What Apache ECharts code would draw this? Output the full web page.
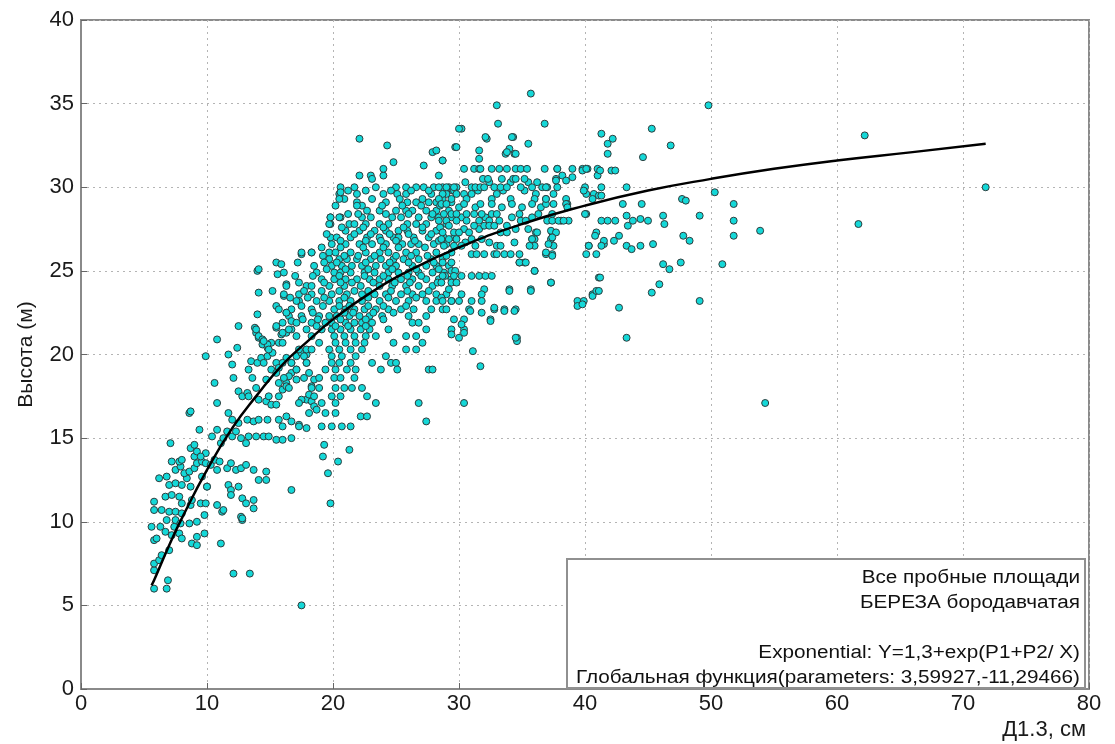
<!DOCTYPE html>
<html>
<head>
<meta charset="utf-8">
<script src="https://cdn.jsdelivr.net/npm/echarts@6/dist/echarts.min.js"></script>
<style>
  html, body { margin: 0; padding: 0; background: #fff; }
  #chart { width: 1115px; height: 744px; }
</style>
</head>
<body>
<div id="chart"></div>
<script>
// Д1.3 (cm) vs height (m)
const smallTrees = [
  [5.8,6.0],[6.8,6.0],[6.9,6.5],[12.1,6.9],[13.4,6.9],[5.8,7.1],[5.8,7.5],[6.2,7.7],[6.4,8.0],[7.0,8.3],[11.1,8.7],
  [5.8,8.9],[6.0,9.0],[7.2,9.2],[7.8,9.3],[8.0,9.0],[8.8,8.7],[9.2,8.6],[9.2,9.1],[9.8,9.3],
  [5.6,9.7],[6.3,9.7],[6.7,9.4],[7.4,9.7],[6.8,10.1],[7.5,10.1],[7.9,9.9],[8.6,9.9],[9.2,10.0],
  [9.8,10.4],[11.2,10.6],[12.7,10.3],[12.8,10.1],
  [5.8,10.7],[6.4,10.7],[7.0,10.6],[7.5,10.6],[8.0,10.5],[8.7,11.0],[9.5,11.1],[9.9,11.1],
  [5.8,11.2],[6.7,11.5],[7.2,11.6],[7.8,11.5],[8.0,11.1],[8.8,11.3],[10.0,12.1],[10.8,11.0],[11.3,10.7],
  [11.7,12.2],[11.9,11.9],[11.9,11.6],[12.5,12.1],[12.8,11.4],[13.1,11.1],[13.7,11.3],[13.7,10.8],[12.8,10.2],[16.7,11.9],
  [6.2,12.6],[6.8,12.7],[7.0,12.2],[7.5,12.3],[8.0,12.2],[8.4,12.6],[8.7,12.1],[9.6,12.7],[10.0,12.1],
  [7.5,13.1],[7.9,13.3],[8.2,12.9],[8.6,13.0],[9.0,13.2],[9.2,13.5],[9.6,13.6],[9.9,13.5],[10.3,13.4],[10.8,13.1],
  [7.2,13.6],[7.8,13.6],[8.0,13.7],[9.0,13.9],[9.2,14.2],[9.9,14.1],
  [10.6,13.7],[11.0,13.6],[11.6,13.2],[11.9,13.5],[12.3,13.1],[12.7,13.2],[13.1,13.4],[13.7,13.1],[14.7,13.0],[14.1,12.5],[14.7,12.5],
  [8.7,14.4],[9.0,14.6],[9.4,15.5],[9.5,13.9],[7.1,14.7],[8.6,16.5],[8.7,16.6],
  [10.4,15.1],[10.8,15.5],[11.1,14.7],[11.3,15.0],[11.6,15.4],[12.0,15.1],[12.3,15.4],[12.7,15.0],[13.1,14.7],[13.3,15.1],
  [13.9,15.1],[14.5,15.1],[14.9,15.1],[15.5,14.9],[16.0,14.9],[16.7,15.0],
  [10.8,17.1],[11.7,16.5],[12.0,16.1],[12.5,15.9],[13.2,16.1],[13.7,16.0],[14.1,16.1],[14.8,16.1],[15.7,16.1],[16.3,16.3],
  [16.7,16.0],[17.3,15.8],[17.9,15.6],
  [10.6,18.3],[9.9,19.9],[10.8,20.9],
  [11.7,20.0],[12.0,19.4],[12.1,18.6],[12.5,17.8],[12.8,17.5],[13.2,17.7],[13.9,18.0],[13.6,18.6],
  [13.3,19.1],[13.5,19.6],[14.0,19.5],[14.3,19.8],[14.5,19.5],[14.8,19.9],[15.2,20.1],[15.5,19.5],[15.7,19.2],
  [14.1,21.0],[13.9,21.3],[14.4,20.6],[14.8,20.4],[15.1,20.7],[15.7,20.7],
  [16.3,19.8],[16.7,19.5],[17.1,19.9],[17.5,20.1],[17.9,19.5],[17.9,20.0],
  [13.3,17.5],[14.1,17.3],[14.7,17.2],[14.9,17.5],[15.1,17.0],[15.5,17.0],[16.0,17.9],[16.3,18.3],[16.7,18.9],[17.1,18.5],
  [17.9,17.3],[18.1,17.6],[18.3,17.2],[18.5,16.9],
  [14.7,18.5],[15.7,18.3],[16.3,18.1],[15.1,19.1],[15.5,18.9],[16.5,18.7],[17.5,17.3],[17.1,19.1],
  [17.9,20.3],[18.1,18.9],[18.3,18.1],[18.5,18.5],[18.7,16.7]
];

const middleTrees = [
  [12.4,20.4],[14.0,25.0],[14.1,23.7],[14.0,22.4],[15.5,25.5],[15.6,24.8],[15.2,23.8],[16.3,24.2],[16.1,23.5],[15.5,22.9],
  [15.5,21.6],[16.3,22.5],[16.5,22.3],[16.7,22.0],[16.7,21.5],[16.3,21.3],[15.9,21.2],[12.5,21.7],[13.8,21.6],[14.1,21.1],
  [14.4,20.9],[14.8,20.6],[14.9,20.3],[17.5,26.0],[18.3,26.1],[14.1,25.1],[15.9,25.4],[17.3,23.2],[13.9,21.5],[14.5,20.8],
  [15.5,21.7],[16.0,21.3],
  [17.5,5.0],[19.6,12.9],[19.8,11.1],[19.2,13.9],[20.4,13.6],[21.3,14.3],[19.3,14.6]
];

// [height, diameters in that row]
const coreRows = [
  [30.7,[22.1,23.0,24.0,28.4]],
  [30.0,[20.6,21.7,23.4,25.0,25.8,26.6,27.2,28.0,28.7,29.2,29.8]],
  [29.6,[20.5,21.9,24.0,25.1,25.8,27.8,29.0]],
  [29.1,[21.9,24.2,25.9,26.6,27.6,28.2,29.4]],
  [28.6,[22.7,23.7,25.0,25.8,26.3,27.4,28.2,29.2]],
  [28.2,[19.8,20.6,22.3,23.0,24.7,25.4,26.8,27.8,28.4,29.4]],
  [27.8,[19.8,21.3,21.7,22.6,23.7,24.4,25.9,26.6,27.4,29.0]],
  [27.4,[21.0,22.1,23.3,24.2,25.2,25.9,27.1,28.2]],
  [27.0,[19.8,20.3,21.4,22.7,23.7,24.8,25.2,26.4,27.6,28.8,29.6]],
  [26.6,[19.9,21.0,22.1,23.1,24.2,25.5,26.2,26.8,28.0,29.0]],
  [26.1,[17.5,18.3,19.7,20.2,21.4,22.6,23.7,24.4,25.8,26.6,28.2,29.4]],
  [25.7,[19.7,20.5,21.1,21.9,23.0,23.8,24.8,25.6,26.8,27.8,28.7]],
  [25.3,[18.5,19.9,20.7,21.5,22.3,23.4,24.2,25.0,26.3,27.4,28.2,29.2]],
  [24.9,[16.1,18.7,20.1,20.6,21.4,22.5,23.3,24.4,25.2,26.0,26.8,27.9,28.8]],
  [24.5,[19.1,20.1,21.0,21.9,22.9,23.7,24.4,25.4,26.3,27.4,28.4,29.4]],
  [24.1,[16.3,17.9,18.3,19.7,20.9,22.2,23.7,24.7,25.8,26.8,27.9]],
  [23.6,[16.1,17.3,18.3,19.9,21.1,22.3,23.3,24.2,25.4,26.3,27.1,28.2,29.0]],
  [23.2,[17.1,18.7,19.7,20.5,21.4,22.3,23.7,25.0,26.0,27.4,28.2,29.4]],
  [22.7,[15.7,16.7,18.3,20.1,21.0,21.7,22.5,23.4,24.4,25.4,26.4,27.8,28.7]],
  [22.3,[17.5,18.9,19.7,20.3,21.3,22.1,22.9,23.9,26.0,27.4]],
  [21.9,[16.0,17.1,18.3,19.4,19.9,21.0,21.7,22.3,23.1,26.3,26.8]],
  [21.5,[16.5,17.9,19.1,19.9,20.6,21.4,22.2,22.9,24.4,27.4]],
  [21.1,[17.1,18.3,20.1,20.9,21.7,22.6,23.4,25.8,26.6]],
  [20.7,[16.0,18.9,20.2,21.0,21.8,22.5,24.8,27.1]],
  [20.3,[17.3,18.3,19.7,20.5,21.4,22.3,25.8,26.6]],
  [19.9,[17.7,19.9,20.7,21.8,24.2]],
  [19.5,[16.0,16.7,17.9,19.9,20.5,21.4,23.1,24.6,25.0]],
  [19.1,[17.1,19.4,20.2,21.1,21.8,23.8,25.1,27.6,27.9]],
  [18.6,[16.1,17.7,18.9,20.1,20.6,21.7]],
  [18.0,[16.5,18.3,18.9,20.2,20.9,21.5,22.3]],
  [17.5,[15.7,18.5,19.9,20.6,22.7]],
  [17.1,[17.3,19.1,20.2,23.4,26.8]],
  [16.5,[18.1,19.4,20.2]],
  [16.3,[22.2,22.7]],
  [16.0,[27.4]],
  [15.7,[16.0,17.3,19.1,19.9,20.7,21.4]]
];

// overlapping dots hidden between the rows above (dense centre of the cloud)
const coreFillRows = [
  [29.8,[21.2,22.6,24.6,26.2,27.6,29.5]],
  [29.3,[20.9,23.1,25.3,27.1,28.7]],
  [28.9,[20.2,22.3,23.9,25.5,27.0,28.5]],
  [28.4,[21.2,22.0,24.2,26.0,27.9]],
  [27.6,[20.7,22.4,24.0,25.6,27.1,28.5]],
  [27.2,[19.5,21.7,23.0,24.5,26.0,27.8]],
  [26.8,[20.6,22.6,23.8,25.0,26.5,28.4]],
  [26.4,[19.1,20.6,22.4,24.0,25.2,27.3]],
  [25.9,[19.2,20.9,22.0,23.3,25.0,26.2,27.5,29.0]],
  [25.5,[17.2,19.3,20.3,22.6,24.5,26.0,28.0]],
  [25.1,[19.5,21.0,22.8,24.7,26.6,28.4]],
  [24.7,[17.0,18.4,20.5,22.5,24.0,25.9,27.0,28.9]],
  [24.3,[17.3,19.3,20.6,21.5,23.2,24.9,26.1,28.3]],
  [23.8,[17.7,19.1,20.5,21.7,22.8,24.6,25.9,27.6]],
  [23.4,[16.6,18.0,19.3,20.9,22.8,24.4,26.6,28.6]],
  [22.9,[17.5,19.2,20.5,21.3,22.8,24.0,25.8]],
  [22.5,[16.3,18.4,20.9,21.6,23.2,24.8]],
  [22.1,[17.6,18.8,20.6,22.6,24.0]],
  [21.7,[18.7,20.2,21.2,22.6]],
  [30.3,[30.5,32.4,34.1,35.5,36.2]],
  [29.8,[29.6,31.5,33.5,35.2]],
  [28.8,[30.0,31.3,33.4,35.0,36.5]],
  [28.2,[30.2,32.1,34.2,35.8]],
  [27.5,[30.4,31.6,34.5,35.5]],
  [26.7,[30.5,32.4,34.4]]
];

const upperRows = [
  [35.6,[35.7]],
  [34.9,[33.0]],
  [33.8,[33.1,36.8]],
  [33.5,[30.2]],
  [33.0,[34.3]],
  [32.9,[32.2]],
  [32.6,[35.5]],
  [32.4,[29.7]],
  [32.3,[34.0]],
  [32.2,[31.6]],
  [32.0,[33.7,34.4]],
  [31.7,[31.6]],
  [31.6,[28.7]],
  [31.1,[30.4,31.2,31.6,31.7,32.6,33.2,33.8,34.5,34.9,35.4,36.8,37.8,39.0,39.8,40.2,41.0]],
  [30.5,[31.9,32.3,33.4,34.3,34.5,35.2,37.7]],
  [30.0,[28.4,29.0,29.6,31.0,31.3,31.7,32.0,32.8,33.3,33.8,34.9,35.8,36.6,37.0,37.8,40.0]],
  [29.6,[28.7,29.8,30.4,31.0,33.0,36.1,37.5,40.1,40.7]],
  [29.3,[28.4,29.4,30.6,32.6,34.1,36.0,36.9,38.5]],
  [29.0,[28.6,29.0,30.4,31.7,32.6,34.2,35.8,36.9,37.5,38.6]],
  [28.4,[28.8,29.4,29.8,30.6,31.2,31.8,32.6,33.0,34.8,36.3,37.4,40.1]],
  [28.0,[28.4,29.0,29.8,30.6,31.6,32.4,33.2,34.9,35.3,37.0,37.4,38.1,38.7]],
  [27.7,[29.2,31.2,32.0,32.4,32.8,33.8]],
  [27.3,[28.7,29.6,30.0,30.8,33.3,33.8,36.1,37.4,40.9]],
  [26.9,[28.6,29.2,29.8,31.0,31.8,35.8,36.0,37.3]],
  [26.5,[28.8,29.6,30.2,31.3,33.0,33.3,36.0,37.5,40.3]],
  [26.0,[31.0,31.4,32.0,32.8,33.0,33.6,34.1,34.8,36.9,37.4,40.9]],
  [25.5,[28.7,29.4,34.8,35.2]],
  [25.0,[29.4,29.7,36.0]],
  [24.7,[28.7,29.6,30.2,31.0,31.6,32.1,32.6]],
  [24.3,[28.6,29.4,29.8,37.3]],
  [23.9,[29.2,32.0,34.0,35.7]],
  [23.6,[30.2,31.8,40.6]],
  [23.2,[28.7,29.4,30.0,31.0,31.8,39.4,39.9]],
  [22.7,[29.0,30.8,32.8,33.6,34.5]],
  [22.1,[29.6,30.4,32.5]],
  [21.5,[29.4,30.4]],
  [21.0,[30.0,34.6]],
  [20.8,[34.6]]
];

const upperExtra = [
  [30.0,33.5],[27.9,32.1],[28.2,32.2],[32.1,33.0],[34.2,33.0],[33.8,32.1],[34.5,32.0],[28.7,31.6],[27.2,31.3],[29.8,32.4],
  [22.1,32.9],[24.3,32.5],[24.8,31.5],[24.0,31.1],[23.1,30.5],[20.5,29.3],[20.6,29.7],[21.9,28.9],[19.8,28.2],[20.5,28.2],
  [19.7,27.8],[39.4,22.9],[39.8,23.0],[40.6,23.5],[40.9,23.8],[41.1,24.6],[40.1,26.0],[40.3,26.5],[40.8,27.1],[40.0,28.4],
  [39.9,29.8],[40.6,29.3],[41.1,29.5],[39.8,31.0],[40.1,31.1],[41.0,30.7],[39.0,30.6],[38.5,29.0],[38.6,28.8],[37.9,28.0],
  [38.3,28.0],[34.0,23.8],[35.7,23.8],[37.3,24.3],[34.5,21.0],[31.1,20.2],[31.7,19.3],[30.4,17.1],[32.5,22.0],[32.8,22.8],
  [33.6,22.6],[34.4,22.6],[31.8,22.5],[30.9,22.6],[30.2,21.8],[30.4,21.3],[29.4,21.2],[36.0,25.0],[34.8,25.5],[35.3,25.5],
  [36.9,30.0],[37.7,30.4],[36.9,29.3],[37.3,27.4],[37.7,27.3],[37.4,27.0],[37.1,26.6],[36.9,26.1],[37.4,25.9],[36.2,27.3],
  [35.8,26.9],[35.6,26.5],[37.8,31.1],[38.2,30.7],[38.5,30.4],[41.5,26.6]
];

const largeTrees = [
  [49.8,34.9],[45.3,33.5],[46.8,32.5],[44.6,31.8],[62.2,33.1],[71.8,30.0],[61.7,27.8],[54.3,17.1],[53.9,27.4],[51.8,29.0],
  [51.8,28.0],[51.8,27.1],[50.3,29.7],[50.9,25.4],[49.1,28.3],[49.1,23.2],[47.7,29.3],[48.0,29.2],[47.8,27.1],[48.3,26.8],
  [47.6,25.5],[46.2,25.4],[46.7,25.1],[45.9,24.2],[45.3,23.7],[46.2,28.3],[46.3,27.8],[45.4,26.6],[44.5,29.0],[44.4,28.1],
  [45.0,28.0],[44.4,26.5],[43.3,26.5],[43.7,26.3],[43.3,28.3],[43.4,27.7],[43.8,28.0],[43.0,29.0],[43.3,30.0],[42.7,22.8],
  [43.3,21.0],[42.7,27.1],[42.3,26.8],[41.5,26.8],[41.3,26.5],[41.3,28.0],[41.8,28.0],[42.4,28.0],[41.3,30.0],[41.3,29.5],
  [42.1,31.0],[42.4,31.0],[41.2,31.0],[41.8,32.6],[41.8,32.0],[42.2,32.9],[41.3,33.2],[41.2,24.6],[41.1,23.8]
];

// fitted curve as drawn
const fitD = [5.6, 5.8, 7, 8, 10, 12, 14, 16, 18, 20, 23, 26, 30, 35, 40, 45, 50, 55, 60, 66, 71.8];
const fitH = [6.2, 6.5, 8.6, 10.2, 13.1, 15.6, 17.6, 19.4, 20.8, 22.1, 23.7, 25.0, 26.4, 27.8, 28.9, 29.8, 30.5, 31.1, 31.6, 32.1, 32.6];

const legendLines = [
  "Все пробные площади",
  "БЕРЕЗА бородавчатая",
  "",
  "Exponential: Y=1,3+exp(P1+P2/ X)",
  "Глобальная функция(parameters: 3,59927,-11,29466)"
];

const rowsToPoints = (rows) => rows.flatMap(([h, ds]) => ds.map((d) => [d, h]));

const points = [
  ...smallTrees,
  ...middleTrees,
  ...rowsToPoints(coreRows),
  ...rowsToPoints(coreFillRows),
  ...rowsToPoints(upperRows),
  ...upperExtra,
  ...largeTrees,
];

const FONT = "'Liberation Sans', Arial, sans-serif";
const AXIS_GRAY = "#8a8a8a";

const chart = echarts.init(document.getElementById("chart"), null, { renderer: "canvas" });

const boxLeft = 567, boxTop = 559, boxRight = 1085, boxBottom = 688;

chart.setOption({
  animation: false,
  backgroundColor: "#fff",
  grid: {
    left: 81,
    right: 26,
    top: 20,
    bottom: 55,
    show: true,
    borderColor: AXIS_GRAY,
    borderWidth: 2,
  },
  xAxis: {
    type: "value",
    min: 0,
    max: 80,
    interval: 10,
    name: "Д1.3, см",
    nameLocation: "end",
    nameGap: -3,
    nameTextStyle: {
      fontFamily: FONT,
      fontSize: 22,
      color: "#1a1a1a",
      align: "right",
      verticalAlign: "top",
      padding: [30, 0, 0, 0],
    },
    axisLine: { lineStyle: { color: AXIS_GRAY, width: 2 } },
    axisTick: { show: true, inside: true, length: 6, lineStyle: { color: "#666" } },
    axisLabel: { fontFamily: FONT, fontSize: 22, color: "#1a1a1a", margin: 4 },
    splitLine: { lineStyle: { color: "#b4b4b4", type: [2, 4], width: 1 } },
  },
  yAxis: {
    type: "value",
    min: 0,
    max: 40,
    interval: 5,
    name: "Высота (м)",
    nameLocation: "middle",
    nameGap: 44,
    nameTextStyle: { fontFamily: FONT, fontSize: 21, color: "#1a1a1a" },
    axisLine: { lineStyle: { color: AXIS_GRAY, width: 2 } },
    axisTick: { show: true, inside: true, length: 6, lineStyle: { color: "#666" } },
    axisLabel: { fontFamily: FONT, fontSize: 22, color: "#1a1a1a", margin: 7 },
    splitLine: { lineStyle: { color: "#b4b4b4", type: [2, 4], width: 1 } },
  },
  series: [
    {
      type: "scatter",
      data: points,
      symbol: "circle",
      symbolSize: 7,
      itemStyle: { color: "#14d8d8", borderColor: "#2e3d3d", borderWidth: 1, opacity: 1 },
      emphasis: { disabled: true },
      z: 2,
    },
    {
      type: "line",
      data: fitD.map((d, i) => [d, fitH[i]]),
      smooth: true,
      symbol: "none",
      lineStyle: { color: "#000", width: 2.5 },
      z: 3,
    },
  ],
  graphic: [
    {
      type: "rect",
      z: 100,
      shape: { x: boxLeft, y: boxTop, width: boxRight - boxLeft, height: boxBottom - boxTop },
      style: { fill: "#fff", stroke: "#909090", lineWidth: 2 },
    },
    ...legendLines.map((t, i) => ({
      type: "text",
      z: 101,
      x: boxRight - 5,
      y: boxTop + 19 + i * 25,
      scaleX: 1.15,
      style: {
        text: t,
        fontFamily: FONT,
        fontSize: 18,
        fill: "#111",
        textAlign: "right",
        textVerticalAlign: "middle",
      },
    })),
  ],
});
</script>
</body>
</html>
